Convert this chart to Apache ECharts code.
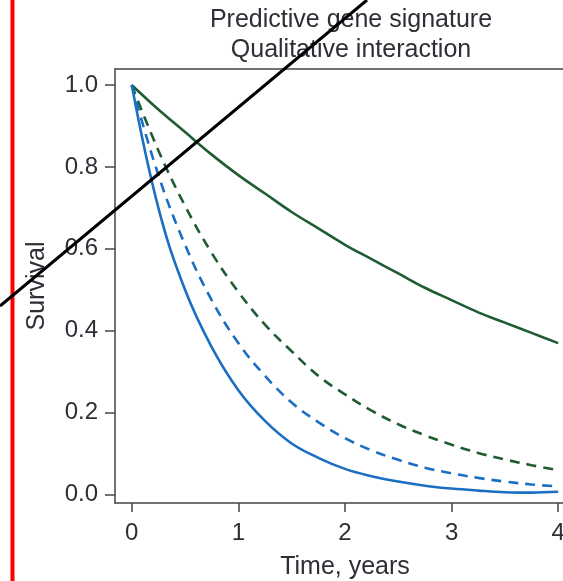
<!DOCTYPE html>
<html>
<head>
<meta charset="utf-8">
<script src="https://cdn.jsdelivr.net/npm/echarts@6/dist/echarts.min.js"></script>
<style>
  html, body { margin: 0; padding: 0; background: #fff; }
  #chart { width: 563px; height: 581px; }
</style>
</head>
<body>
<div id="chart"></div>
<script>
// time points (years)
var times = [0, 0.25, 0.5, 0.75, 1, 1.25, 1.5, 1.75, 2, 2.25, 2.5, 2.75, 3, 3.25, 3.5, 3.75, 4];

// survival curves
var greenSolid  = [1.00, 0.94, 0.885, 0.83, 0.78, 0.735, 0.69, 0.65, 0.61, 0.575, 0.54, 0.505, 0.475, 0.445, 0.42, 0.395, 0.37];
var greenDashed = [1.00, 0.84, 0.705, 0.59, 0.495, 0.415, 0.35, 0.29, 0.245, 0.205, 0.172, 0.145, 0.122, 0.102, 0.086, 0.072, 0.06];
var blueDashed  = [1.00, 0.78, 0.61, 0.475, 0.37, 0.29, 0.225, 0.177, 0.138, 0.108, 0.085, 0.066, 0.052, 0.041, 0.032, 0.025, 0.02];
var blueSolid   = [1.00, 0.70, 0.50, 0.36, 0.255, 0.18, 0.125, 0.09, 0.063, 0.045, 0.032, 0.022, 0.015, 0.010, 0.006, 0.005, 0.007];

var xTicks = [0, 1, 2, 3, 4];
var yTicks = [0, 0.2, 0.4, 0.6, 0.8, 1.0];

var titleLines = ['Predictive gene signature', 'Qualitative interaction'];

function pairs(ys) {
    return times.map(function (t, i) { return [t, ys[i]]; });
}

var GREEN = '#1f5c33';
var BLUE = '#1b6fc2';
var INK = '#2e2e36';
var FRAME = '#444';
var FONT = 'Liberation Sans';
var X_MIN = -0.157, X_MAX = 4.233;

function curve(name, ys, color, dashed) {
    return {
        name: name,
        type: 'line',
        data: pairs(ys),
        smooth: 0.4,
        showSymbol: false,
        silent: true,
        lineStyle: { color: color, width: 2.6, type: dashed ? [10, 7] : 'solid' }
    };
}

var chart = echarts.init(document.getElementById('chart'), null, { renderer: 'canvas' });

chart.setOption({
    animation: false,
    backgroundColor: '#fff',
    textStyle: { fontFamily: FONT },
    title: {
        text: titleLines.join('\n'),
        left: 346,
        top: 0,
        textAlign: 'center',
        textStyle: { fontFamily: FONT, fontSize: 25, fontWeight: 'normal', color: INK, lineHeight: 30 }
    },
    // the box runs off the right edge of the picture: left, bottom and top sides only
    grid: {
        left: 115, right: -20, top: 69, bottom: 78,
        outerBoundsMode: 'none',
        show: false
    },
    xAxis: [{
        type: 'value',
        min: X_MIN, max: X_MAX,
        splitLine: { show: false },
        axisLine: { show: true, onZero: false, lineStyle: { color: FRAME, width: 1.5 } },
        axisTick: { show: true, length: 9, lineStyle: { color: FRAME, width: 1.5 }, customValues: xTicks },
        axisLabel: { fontFamily: FONT, fontSize: 24, color: INK, margin: 18, customValues: xTicks }
    }, {
        type: 'value',
        position: 'top',
        min: X_MIN, max: X_MAX,
        splitLine: { show: false },
        axisLine: { show: true, onZero: false, lineStyle: { color: FRAME, width: 1.5 } },
        axisTick: { show: false },
        axisLabel: { show: false }
    }],
    yAxis: {
        type: 'value',
        min: -0.0203, max: 1.039,
        name: 'Survival',
        nameLocation: 'middle',
        nameGap: 65,
        nameTextStyle: { fontFamily: FONT, fontSize: 25, color: INK },
        splitLine: { show: false },
        axisLine: { show: true, onZero: false, lineStyle: { color: FRAME, width: 1.5 } },
        axisTick: { show: true, length: 10, lineStyle: { color: FRAME, width: 1.5 }, customValues: yTicks },
        axisLabel: {
            fontFamily: FONT, fontSize: 24, color: INK, margin: 17, customValues: yTicks,
            formatter: function (v) { return v.toFixed(1); }
        }
    },
    series: [
        curve('green solid', greenSolid, GREEN, false),
        curve('green dashed', greenDashed, GREEN, true),
        curve('blue dashed', blueDashed, BLUE, true),
        curve('blue solid', blueSolid, BLUE, false)
    ],
    graphic: [
        // x axis title centred under the visible part of the box
        { type: 'text', silent: true, x: 345, y: 567,
          style: { text: 'Time, years', font: '25px "Liberation Sans"', fill: INK, align: 'center', verticalAlign: 'middle' } },
        // red vertical marker on the left
        { type: 'line', silent: true, z: 100, shape: { x1: 12.5, y1: 0, x2: 12.5, y2: 581 },
          style: { stroke: '#ff0000', lineWidth: 4 } },
        // black diagonal strike across the top left
        { type: 'line', silent: true, z: 100, shape: { x1: 367, y1: 0, x2: 0, y2: 306 },
          style: { stroke: '#000000', lineWidth: 3 } }
    ]
});
</script>
</body>
</html>
